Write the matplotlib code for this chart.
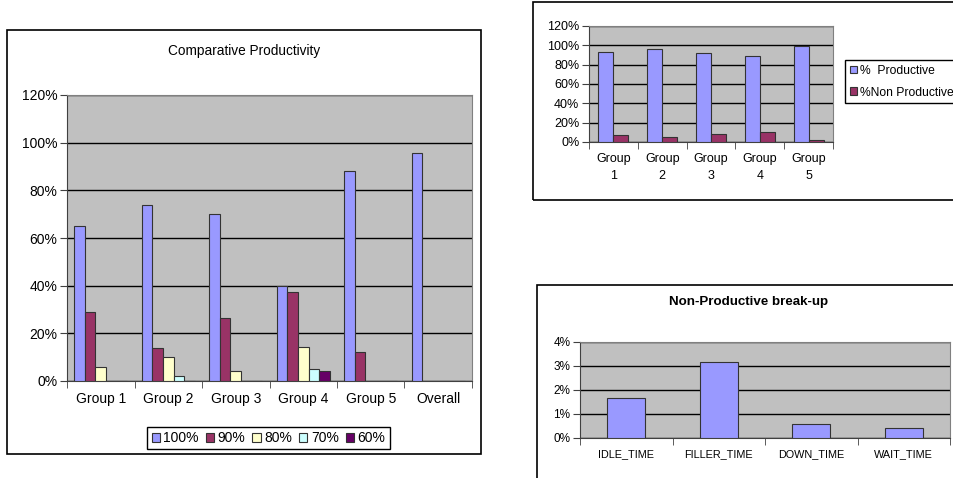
import matplotlib
matplotlib.use("Agg")
import matplotlib.pyplot as plt
from matplotlib.patches import Patch, Rectangle
from matplotlib.ticker import FuncFormatter, MultipleLocator, FixedLocator
import numpy as np

plt.rcParams['font.family'] = ['Liberation Sans', 'DejaVu Sans']

# --- data ---
groups = ["Group 1", "Group 2", "Group 3", "Group 4", "Group 5", "Overall"]
series_names = ["100%", "90%", "80%", "70%", "60%"]
s100 = [65.0, 74.0, 70.0, 40.0, 88.0, 95.8]
s90 = [29.0, 14.0, 26.3, 37.2, 12.3, 0]
s80 = [6.0, 10.0, 4.1, 14.1, 0, 0]
s70 = [0, 2.0, 0, 5.0, 0, 0]
s60 = [0, 0, 0, 4.2, 0, 0]

prod_groups = ["Group\n1", "Group\n2", "Group\n3", "Group\n4", "Group\n5"]
productive = [92.6, 96.2, 91.7, 89.4, 99.0]
non_productive = [7.4, 5.0, 8.6, 10.6, 2.4]

np_cats = ["IDLE_TIME", "FILLER_TIME", "DOWN_TIME", "WAIT_TIME"]
np_vals = [1.67, 3.15, 0.57, 0.43]

colors = ["#9999FF", "#993366", "#FFFFCC", "#CCFFFF", "#660066"]
PLOT_BG = "#C0C0C0"
W, H = 954, 478

fig = plt.figure(figsize=(W / 100, H / 100), dpi=100)
fig.patch.set_facecolor("white")


def px_axes(x0, y0, x1, y1):
    return fig.add_axes([x0 / W, 1 - y1 / H, (x1 - x0) / W, (y1 - y0) / H])


def frame(x0, y0, x1, y1):
    fig.patches.append(Rectangle((x0 / W, 1 - y1 / H), (x1 - x0) / W, (y1 - y0) / H,
                                 transform=fig.transFigure, fill=False,
                                 edgecolor="black", lw=1.2, zorder=0))


def style(ax, n, ymax, step, fs):
    ax.set_facecolor(PLOT_BG)
    ax.set_xlim(-0.5, n - 0.5)
    ax.set_ylim(0, ymax)
    ax.yaxis.set_major_locator(MultipleLocator(step))
    ax.yaxis.set_major_formatter(FuncFormatter(lambda v, p: f"{v:.0f}%"))
    ax.grid(axis="y", color="black", lw=1)
    ax.set_axisbelow(True)
    for s in ("top", "right"):
        ax.spines[s].set_color("#808080")
    for s in ("left", "bottom"):
        ax.spines[s].set_color("#404040")
    ax.set_xticks(range(n))
    ax.tick_params(axis="x", which="major", length=0, labelsize=fs, pad=8)
    ax.xaxis.set_minor_locator(FixedLocator(np.arange(n + 1) - 0.5))
    ax.tick_params(axis="x", which="minor", length=5, color="#404040")
    ax.tick_params(axis="y", length=5, labelsize=fs, color="#404040", pad=2)


# --- chart 1: Comparative Productivity ---
frame(7, 30, 481, 454)
ax1 = px_axes(67, 95, 472, 381)
w = 0.158
x = np.arange(len(groups))
for i, vals in enumerate([s100, s90, s80, s70, s60]):
    ax1.bar(x + (i - 2) * w, vals, w, color=colors[i], edgecolor="#333333", lw=0.8, zorder=3)
style(ax1, len(groups), 120, 20, 10)
ax1.set_xticklabels(groups)
fig.text(244 / W, 1 - 51 / H, "Comparative Productivity", ha="center", va="center", fontsize=9.8)
handles = [Patch(facecolor=c, edgecolor="#333333", lw=0.8) for c in colors]
leg1 = fig.legend(handles, series_names, loc="center", bbox_to_anchor=(268.5 / W, 1 - 438 / H),
                  ncol=5, fontsize=10, handlelength=0.6, handleheight=0.6, handletextpad=0.25,
                  columnspacing=0.5, borderpad=0.3, fancybox=False, edgecolor="black", framealpha=1)
leg1.get_frame().set_linewidth(1)

# --- chart 2: Productive vs Non Productive ---
frame(533, 2, 980, 200)
ax2 = px_axes(589, 26, 833, 142)
w2 = 0.307
x2 = np.arange(len(prod_groups))
ax2.bar(x2 - w2 / 2, productive, w2, color=colors[0], edgecolor="#333333", lw=0.8, zorder=3)
ax2.bar(x2 + w2 / 2, non_productive, w2, color=colors[1], edgecolor="#333333", lw=0.8, zorder=3)
style(ax2, len(prod_groups), 120, 20, 9)
ax2.set_xticklabels(prod_groups, linespacing=1.5)
leg2 = fig.legend([Patch(facecolor=colors[0], edgecolor="#333333", lw=0.8),
                   Patch(facecolor=colors[1], edgecolor="#333333", lw=0.8)],
                  ["%  Productive", "%Non Productive"], loc="upper left",
                  bbox_to_anchor=(845 / W, 1 - 60 / H), fontsize=8.7, handlelength=0.6,
                  handleheight=0.6, handletextpad=0.25, borderpad=0.4, labelspacing=0.8,
                  borderaxespad=0, fancybox=False, edgecolor="black", framealpha=1)
leg2.get_frame().set_linewidth(1)

# --- chart 3: Non-Productive break-up ---
frame(537, 285, 980, 500)
ax3 = px_axes(580, 342, 950, 438)
ax3.bar(np.arange(len(np_cats)), np_vals, 0.41, color=colors[0], edgecolor="#333333", lw=0.8, zorder=3)
style(ax3, len(np_cats), 4, 1, 8.5)
ax3.set_xticklabels(np_cats, fontsize=7.8)
fig.text(749 / W, 1 - 302 / H, "Non-Productive break-up", ha="center", va="center",
         fontsize=9.6, fontweight="bold")

fig.savefig("out.png", dpi=100)
